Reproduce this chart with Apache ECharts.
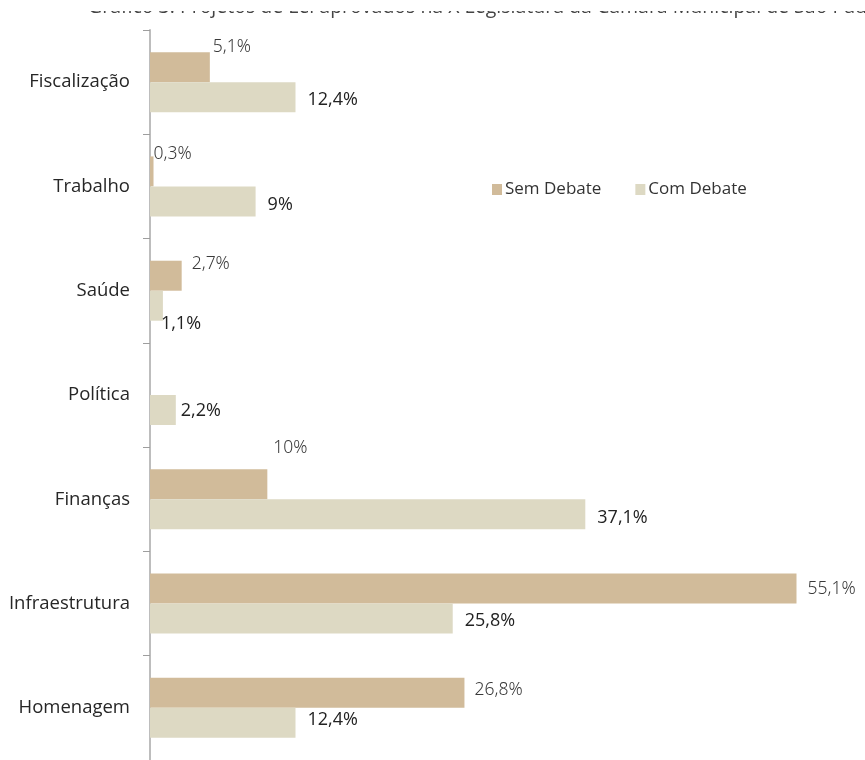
<!DOCTYPE html>
<html>
<head>
<meta charset="utf-8">
<script src="https://cdn.jsdelivr.net/npm/echarts@6/dist/echarts.min.js"></script>
<style>
html,body{margin:0;padding:0;background:#fff;}
#c{width:865px;height:760px;}
</style>
</head>
<body>
<div id="c"></div>
<script>
var categories = ['Fiscalização', 'Trabalho', 'Saúde', 'Política', 'Finanças', 'Infraestrutura', 'Homenagem'];
var semDebate = [5.1, 0.3, 2.7, null, 10, 55.1, 26.8];
var comDebate = [12.4, 9, 1.1, 2.2, 37.1, 25.8, 12.4];
var semLabels = ['5,1%', '0,3%', '2,7%', '', '10%', '55,1%', '26,8%'];
var comLabels = ['12,4%', '9%', '1,1%', '2,2%', '37,1%', '25,8%', '12,4%'];
var seriesNames = ['Sem Debate', 'Com Debate'];
var titleText = 'Gráfico 3: Projetos de Lei aprovados na X Legislatura da Câmara Municipal de São Paulo';

// manual label offsets (like hand-placed labels in original)
var semOffsets = [[3, -20], [0, -17], [10, -12], [0, 0], [6, -36], [11, 0], [10, -3]];
var comOffsets = [[12, 3], [12, 3], [-2, 18], [5, 1], [12, 4], [12, 2], [12, -3]];

var chart = echarts.init(document.getElementById('c'));

function buildData(vals, labels, offsets, lblStyle) {
  return vals.map(function (v, i) {
    return {
      value: v,
      label: Object.assign({
        show: v !== null,
        position: 'right',
        distance: 0,
        offset: offsets[i],
        formatter: labels[i]
      }, lblStyle)
    };
  });
}

chart.setOption({
  animation: false,
  backgroundColor: '#ffffff',
  graphic: [{
    type: 'text',
    left: 88,
    top: -3,
    z: 1,
    style: {
      text: titleText,
      font: '19.5px "Open Sans", sans-serif',
      fill: '#444444'
    }
  }, {
    type: 'rect',
    left: 0,
    top: 0,
    z: 2,
    shape: { width: 865, height: 11 },
    style: { fill: '#ffffff' }
  }],
  legend: {
    data: seriesNames,
    left: 487,
    top: 176,
    itemWidth: 10,
    itemHeight: 11,
    itemGap: 34,
    icon: 'rect',
    textStyle: { fontSize: 17, color: '#333', fontFamily: '"Open Sans", sans-serif', padding: [0, 0, 0, -2] }
  },
  grid: { left: 150, top: 30, right: 11, height: 735 },
  xAxis: {
    type: 'value',
    min: 0,
    max: 60,
    show: false
  },
  yAxis: {
    type: 'category',
    data: categories,
    inverse: true,
    axisLine: { show: true, lineStyle: { color: '#bdbdbd', width: 2 } },
    axisTick: { show: true, length: 7, lineStyle: { color: '#9e9e9e', width: 1 } },
    axisLabel: { margin: 20, fontSize: 18.5, color: '#262626', fontFamily: '"Open Sans", sans-serif' }
  },
  series: [
    {
      name: seriesNames[0],
      type: 'bar',
      barWidth: 30,
      barGap: '0%',
      itemStyle: { color: '#d1bb9a' },
      data: buildData(semDebate, semLabels, semOffsets, {
        fontSize: 17.5, color: '#3a3a3a', fontFamily: '"Noto Sans", sans-serif', fontWeight: 300
      })
    },
    {
      name: seriesNames[1],
      type: 'bar',
      barWidth: 30,
      barGap: '0%',
      itemStyle: { color: '#ddd9c3' },
      data: buildData(comDebate, comLabels, comOffsets, {
        fontSize: 18, color: '#222222', fontFamily: '"Open Sans", sans-serif'
      })
    }
  ]
});
</script>
</body>
</html>
